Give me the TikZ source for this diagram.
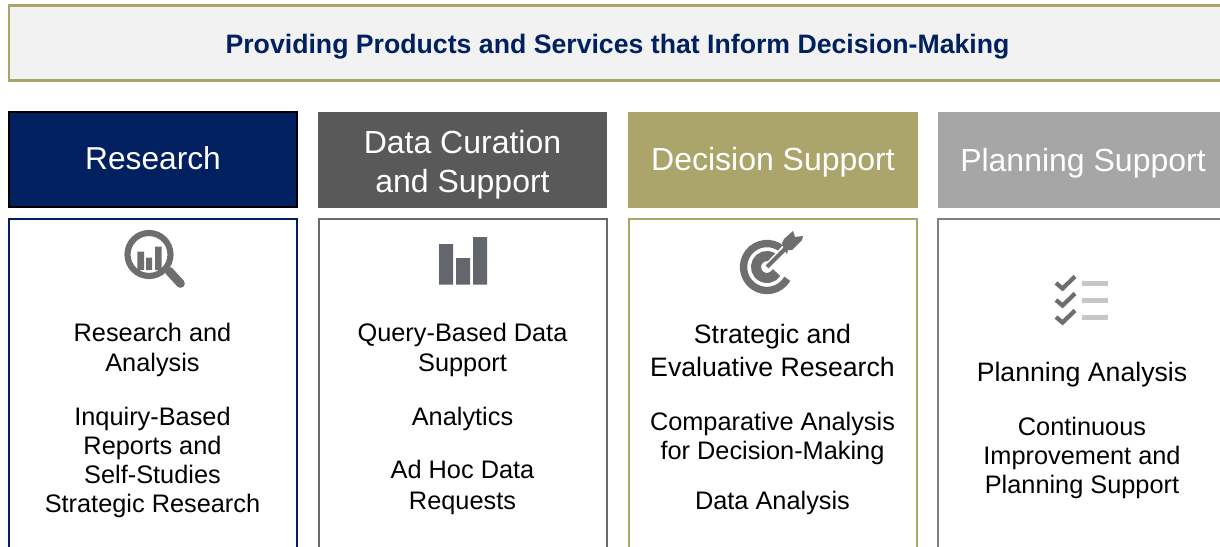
\documentclass[tikz,border=0pt]{standalone}
\usepackage{fontspec}
\setmainfont{Liberation Sans}
\definecolor{navy}{HTML}{002060}
\definecolor{khaki}{HTML}{ABA56B}
\definecolor{slate}{HTML}{595959}
\definecolor{silver}{HTML}{A6A6A6}
\definecolor{icongray}{HTML}{6E6E6E}
\definecolor{bargray}{HTML}{63666C}

\tikzset{
    headbox/.style={rectangle, minimum width=217pt, minimum height=72pt, inner sep=0pt},
    headtext/.style={text=white, inner sep=0pt, align=center, font=\fontsize{24}{29}\selectfont},
    bodybox/.style={rectangle, draw, line width=1.5pt, fill=white, anchor=north,
        minimum width=216pt, minimum height=300pt, inner sep=0pt},
    smalltext/.style={align=center, inner sep=0pt, font=\fontsize{19}{21.75}\selectfont},
    widetext/.style={align=center, inner sep=0pt, font=\fontsize{19}{23}\selectfont},
    bigtext/.style={align=center, inner sep=0pt, font=\fontsize{20}{24.75}\selectfont},
    iconline/.style={draw=icongray, line width=6pt}
}

\begin{document}
\begin{tikzpicture}[x=0.75pt, y=-0.75pt]

    \path[use as bounding box] (0,0) rectangle (1220,546);
    \clip (0,0) rectangle (1220,546);

    % banner
    \node (banner) [rectangle, draw=khaki, line width=2.2pt, fill=black!5, anchor=north west,
        minimum width=930pt, minimum height=56pt, inner sep=0pt] at (7.5,4.2) {};
    \node (title) [text=navy, font=\fontsize{20}{24}\selectfont\bfseries, inner sep=0pt] at (617.5,47)
        {Providing Products and Services that Inform Decision-Making};

    % column heads
    \node (hdres) [headbox, fill=navy, draw=black, line width=1.5pt, minimum width=216pt, minimum height=71pt] at (153,159.5) {};
    \node (hdrestxt) [headtext, font=\fontsize{23.75}{29}\selectfont] at (153,158.5) {Research};
    \node (hdcur) [headbox, fill=slate] at (462.5,160) {};
    \node (hdcurtxt) [headtext] at (462.5,164.5) {Data Curation\\and Support};
    \node (hddec) [headbox, fill=khaki] at (773,160) {};
    \node (hddectxt) [headtext] at (773,162) {Decision Support};
    \node (hdpla) [headbox, fill=silver] at (1083,160) {};
    \node (hdplatxt) [headtext] at (1083,163) {Planning Support};

    % column bodies
    \node (bdres) [bodybox, draw=navy] at (153,217.5) {};
    \node (bdcur) [bodybox, draw=slate!90] at (462.5,217.5) {};
    \node (bddec) [bodybox, draw=khaki] at (772.5,217.5) {};
    \node (bdpla) [bodybox, draw=black!50] at (1081.5,217.5) {};

    % research
    \draw[iconline, line width=4.6pt] (149,254.5) circle (21.5);
    \draw[icongray, line width=6.5pt, line cap=round] (169,271) -- (180.5,283.5);
    \fill[icongray] (137.3,251.7) rectangle (144,270) (146,257.7) rectangle (152,270) (155,246.7) rectangle (161.7,270);
    \node (resa) [widetext] at (152.5,350) {Research and\\Analysis};
    \node (resb) [smalltext] at (152.5,462) {Inquiry-Based\\Reports and\\Self-Studies\\Strategic Research};

    % data curation
    \fill[bargray] (439,244) rectangle (453,284.5) (456,258) rectangle (470,284.5) (473,237) rectangle (487,284.5);
    \node (cura) [widetext] at (462.5,350) {Query-Based Data\\Support};
    \node (curb) [smalltext] at (462.5,419) {Analytics};
    \node (curc) [widetext] at (462.5,487.5) {Ad Hoc Data\\Requests};

    % decision support
    \draw[iconline, line width=5.5pt] (767,267) ++(-40:23.5) arc (-40:-330:23.5);
    \draw[iconline, line width=7.5pt] (767,267) ++(-40:11) arc (-40:-330:11);
    \draw[white, line width=5pt] (767,267) -- (785,248);
    \draw[icongray, line width=3pt] (767,267) -- (787,247);
    \fill[icongray] (782,243) -- (784,239) -- (793,231) -- (795,237) -- (803,236) -- (802,240)
        -- (792,250) -- (788,250) -- (787,254) -- (784,250) -- cycle;
    \node (deca) [bigtext] at (772.5,350.5) {Strategic and\\Evaluative Research};
    \node (decb) [smalltext] at (772.5,438.5) {Comparative Analysis\\for Decision-Making};
    \node (decc) [smalltext] at (772.5,503) {Data Analysis};

    % planning support
    \foreach \yy in {283,300,317} {
        \draw[icongray, line width=3.2pt] (1056,\yy) -- ++(6.5,5.5) -- ++(12.5,-12);
        \fill[black!22] (1082,\yy-2.5) rectangle (1108,\yy+2.5);
    }
    \node (plaa) [bigtext] at (1082,375) {Planning Analysis};
    \node (plab) [smalltext] at (1082,458) {Continuous\\Improvement and\\Planning Support};

\end{tikzpicture}
\end{document}
